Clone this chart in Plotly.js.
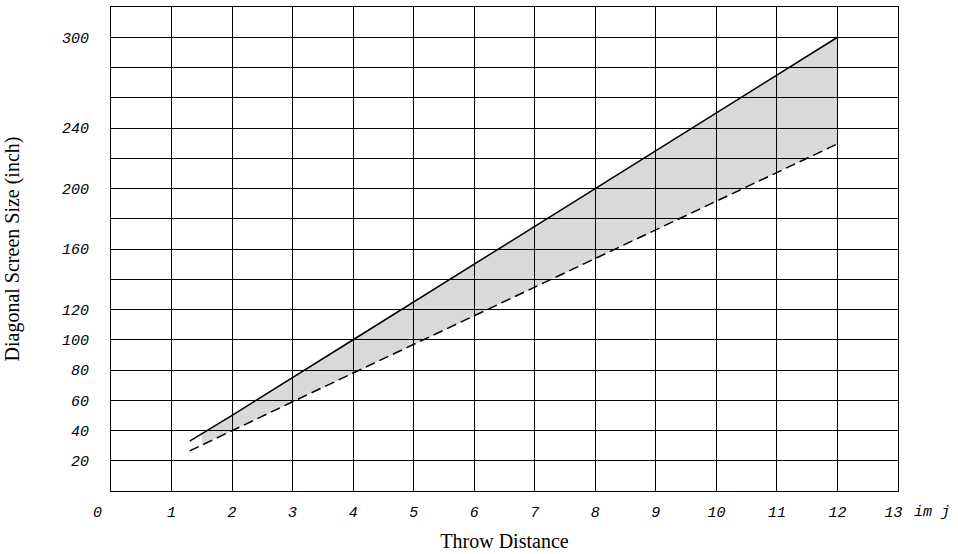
<!DOCTYPE html>
<html>
<head>
<meta charset="utf-8">
<script src="https://cdn.plot.ly/plotly-3.0.1.min.js"></script>
<style>html,body{margin:0;padding:0;background:#fff;}#chart{width:958px;height:554px;}</style>
</head>
<body>
<div id="chart"></div>
<script>
// Data
const maxX = [1.3, 2, 4, 6, 8, 10, 12];
const maxSize = [33, 50, 100, 150, 200, 250, 300];
const minX = [1.3, 2, 3, 4, 5, 8, 9, 12];
const minSize = [26.5, 40, 59, 78, 97, 154, 173, 229.5];
const bandX = [1.5, 12];
const bandLow = [30.5, 229.5];
const bandHigh = [37.5, 300];

const xTickVals = [0,1,2,3,4,5,6,7,8,9,10,11,12,13];
const xTickText = ['0\u00a0\u00a0\u00a0','1','2','3','4','5','6','7','8','9','10','11','12','13\u00a0'];
const yTickVals = [0,20,40,60,80,100,120,140,160,180,200,220,240,260,280,300,320];
const yTickText = ['','20','40','60','80','100','120','','160','','200','','240','','','300',''];

const tickFont = {family: 'Liberation Mono, DejaVu Sans Mono, monospace', size: 15, color: '#000', style: 'italic'};
const titleFont = {family: 'Liberation Serif, Times New Roman, serif', size: 20, color: '#000'};

const traces = [
  {x: bandX, y: bandLow, mode: 'lines', line: {width: 0, color: 'rgba(0,0,0,0)'}, hoverinfo: 'skip', showlegend: false},
  {x: bandX, y: bandHigh, mode: 'lines', fill: 'tonexty', fillcolor: 'rgba(0,0,0,0.15)', line: {width: 0, color: 'rgba(0,0,0,0)'}, hoverinfo: 'skip', showlegend: false},
  {x: maxX, y: maxSize, mode: 'lines', line: {color: '#000', width: 1.5}, showlegend: false},
  {x: minX, y: minSize, mode: 'lines', line: {color: '#000', width: 1.5, dash: '10px,5px'}, showlegend: false}
];

const layout = {
  width: 958, height: 554,
  margin: {l: 111, r: 60, t: 7, b: 63},
  paper_bgcolor: '#fff', plot_bgcolor: '#fff',
  showlegend: false,
  xaxis: {
    range: [0, 13], tickmode: 'array', tickvals: xTickVals, ticktext: xTickText,
    showgrid: true, gridcolor: '#000', gridwidth: 1, zeroline: false,
    showline: true, linecolor: '#000', linewidth: 1, mirror: true,
    ticks: '', ticklabelstandoff: 7, tickfont: tickFont,
    title: {text: 'Throw Distance', font: titleFont, standoff: 12}
  },
  yaxis: {
    range: [0, 320], tickmode: 'array', tickvals: yTickVals, ticktext: yTickText,
    showgrid: true, gridcolor: '#000', gridwidth: 1, zeroline: false,
    showline: true, linecolor: '#000', linewidth: 1, mirror: true,
    ticks: '', ticklabelstandoff: 18, tickfont: tickFont,
    title: {text: 'Diagonal Screen Size (inch)', font: titleFont, standoff: 36}
  },
  annotations: [
    {x: 13, y: 0, xref: 'x', yref: 'paper', text: 'im j', showarrow: false,
     xanchor: 'left', yanchor: 'middle', xshift: 14, yshift: -21, font: tickFont}
  ]
};

Plotly.newPlot('chart', traces, layout, {displayModeBar: false, staticPlot: true});
</script>
</body>
</html>
